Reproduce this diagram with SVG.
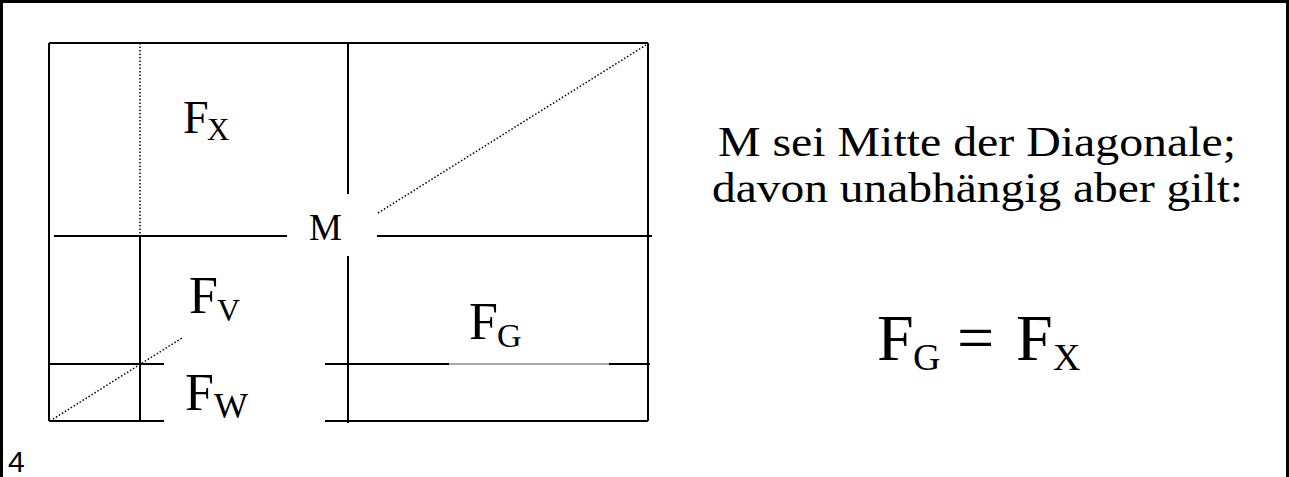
<svg xmlns="http://www.w3.org/2000/svg" width="1289" height="477" viewBox="0 0 1289 477">
<style>
.frame{fill:none;stroke:#000;stroke-width:3}
.ln{stroke:#000;stroke-width:2;fill:none}
.thin{stroke:#555;stroke-width:1.2;fill:none}
.dot{stroke:#000;stroke-width:1.5;stroke-dasharray:1.5 2;fill:none}
.t{font-family:"Liberation Serif","Times New Roman",serif;fill:#000}
.n{font-family:"Liberation Sans",Arial,sans-serif;fill:#000}
</style>
<rect width="1289" height="477" fill="#fff"/>
<g id="frame">
<path class="frame" d="M1.5,477 V1.5 H1287.5 V477"/>
</g>
<g id="connectors">
<path class="ln" d="M49,43 H648 M49,43 V421 M648,43 V421"/>
<path class="ln" d="M49,421 H164 M325,421 H648"/>
<path class="ln" d="M50,364 H164 M325,364 H449 M609,364 H650"/>
<path class="thin" d="M449,364 H609"/>
<path class="ln" d="M54,236 H287 M377,236 H652"/>
<path class="dot" d="M140,43 V236"/>
<path class="ln" d="M140,236 V421"/>
<path class="ln" d="M348,43 V194 M348,256 V423"/>
<path class="dot" d="M50,421 L182,338 M378,213 L646,45"/>
</g>
<g id="node-FX">
<text class="t" x="183" y="133" font-size="46">F</text>
<text class="t" x="207" y="140" font-size="31">X</text>
</g>
<g id="node-M">
<text class="t" x="309" y="240" font-size="37">M</text>
</g>
<g id="node-FV">
<text class="t" x="189" y="313" font-size="52">F</text>
<text class="t" x="217" y="321" font-size="32">V</text>
</g>
<g id="node-FW">
<text class="t" x="185" y="410" font-size="52">F</text>
<text class="t" x="214" y="418" font-size="36">W</text>
</g>
<g id="node-FG">
<text class="t" x="469" y="339" font-size="52">F</text>
<text class="t" x="497" y="347" font-size="34">G</text>
</g>
<g id="node-text">
<text class="t" x="718" y="156" font-size="42" textLength="518" lengthAdjust="spacingAndGlyphs">M sei Mitte der Diagonale;</text>
<text class="t" x="712" y="202" font-size="42" textLength="531" lengthAdjust="spacingAndGlyphs">davon unabhängig aber gilt:</text>
</g>
<g id="node-eq">
<text class="t" x="877" y="360" font-size="66">F</text>
<text class="t" x="913" y="370" font-size="38">G</text>
<text class="t" x="957" y="360" font-size="66">=</text>
<text class="t" x="1016" y="360" font-size="66">F</text>
<text class="t" x="1053" y="370" font-size="38">X</text>
</g>
<g id="node-page">
<text class="n" x="8" y="472" font-size="30">4</text>
</g>
</svg>
